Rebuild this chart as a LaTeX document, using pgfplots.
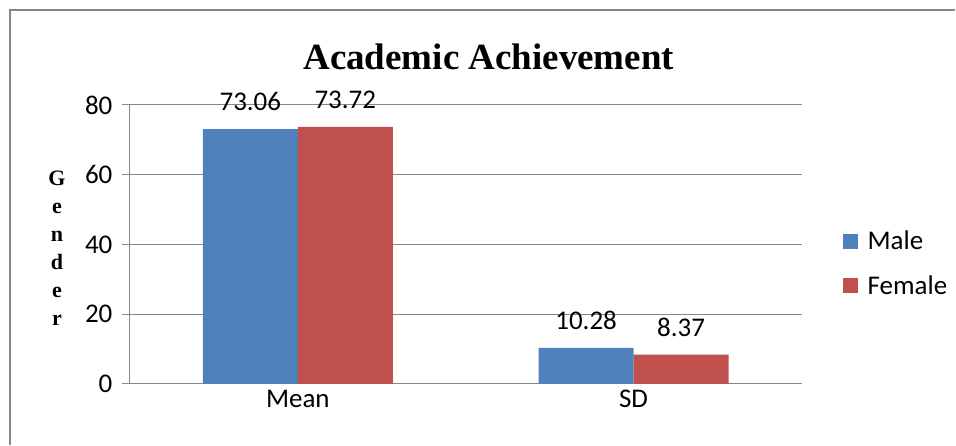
\documentclass[border=0pt]{standalone}
\usepackage{fontspec}
\usepackage{pgfplots}
\pgfplotsset{compat=1.18}
\setmainfont{Carlito}
\newfontfamily\timesfont{Liberation Serif}
\definecolor{barblue}{HTML}{4F81BD}
\definecolor{barred}{HTML}{C0504D}
\definecolor{axgray}{HTML}{868686}
\begin{document}
\begin{tikzpicture}[x=1pt,y=1pt]
\path (0,0) rectangle (956,445);
\draw[axgray, line width=1.2pt] (10,0) -- (10,435) -- (956,435);
\begin{axis}[
  at={(130pt,61pt)}, anchor=south west,
  scale only axis, width=672pt, height=279pt,
  ybar=0pt, bar width=95pt,
  xmin=-0.5, xmax=1.5, ymin=0, ymax=80,
  ytick={0,20,40,60,80},
  xtick={0,1}, xticklabels={Mean,SD},
  x tick style={draw=none},
  extra x ticks={-0.5,0.5,1.5},
  extra x tick labels={},
  extra x tick style={major tick length=8pt, tick align=outside, tick style={draw=axgray, line width=1pt}},
  axis x line*=bottom, axis y line*=left,
  axis line style={draw=axgray, line width=1pt},
  y tick style={draw=axgray, line width=1pt},
  tick align=outside, major tick length=8pt,
  ymajorgrids, grid style={draw=axgray, line width=1pt},
  /pgf/number format/assume math mode=true,
  tick label style={font=\fontsize{27}{30}\selectfont},
  yticklabel style={xshift=-6pt},
  xticklabel style={yshift=5pt},
  nodes near coords,
  point meta=explicit symbolic,
  every node near coord/.append style={font=\fontsize{27}{30}\selectfont, anchor=south, inner sep=0pt, yshift=18pt, black},
  legend style={at={(1,0.432)}, anchor=west, xshift=41pt, draw=none, fill=none, inner sep=0pt,
    font=\fontsize{27}{30}\selectfont, row sep=20pt, legend cell align=left,
    /tikz/every odd column/.append style={column sep=8pt}},
  legend image code/.code={\fill[#1] (0pt,-7.5pt) rectangle (15pt,7.5pt);},
]
\addplot[fill=barblue, draw=none] coordinates {(0,73.06) [73.06] (1,10.28) [10.28]};
\addplot[fill=barred, draw=none] coordinates {(0,73.72) [73.72] (1,8.37) [8.37]};
\legend{Male,Female}
\end{axis}
\node[font=\timesfont\bfseries\fontsize{37}{40}\selectfont] at (489,388) {Academic Achievement};
\node[font=\timesfont\bfseries\fontsize{22}{28}\selectfont, align=center] at (57,197) {G\\e\\n\\d\\e\\r};
\end{tikzpicture}
\end{document}
